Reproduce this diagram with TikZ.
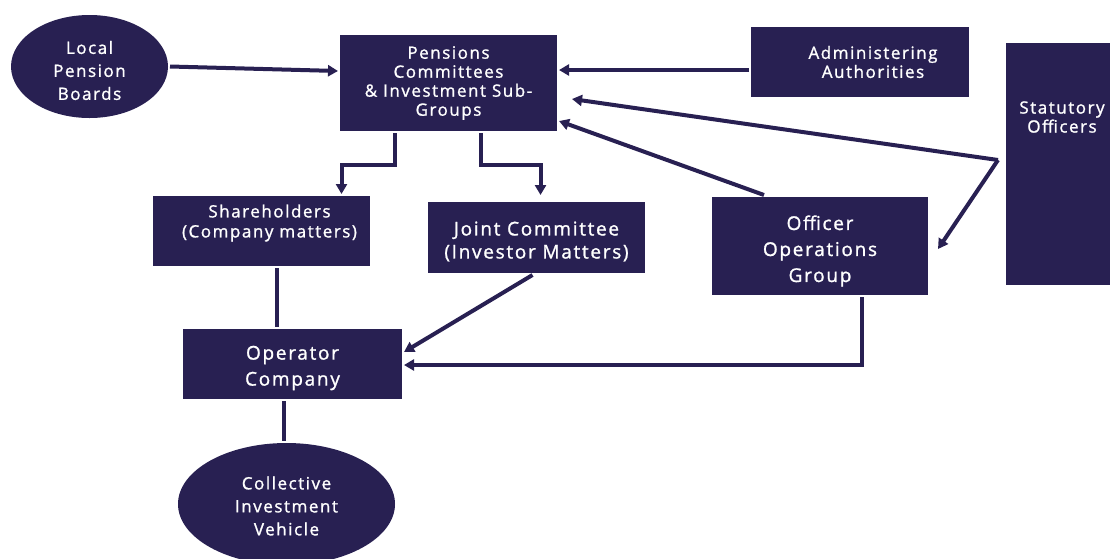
\documentclass[tikz,border=0pt]{standalone}
\usepackage{fontspec}
\setmainfont{Open Sans}[LetterSpace=9, FakeBold=1.2]
\usetikzlibrary{arrows.meta,shapes.geometric}
\definecolor{navy}{RGB}{40,32,82}
\begin{document}
\begin{tikzpicture}[x=1pt, y=-1pt, >={Triangle[length=10pt,width=11pt]},
    line width=4pt, draw=navy,
    txt/.style={text=white, align=center, font=\fontsize{17}{19}\selectfont},
    box/.style={txt, fill=navy, inner sep=0pt},
    bigtxt/.style={txt, font=\fontsize{19}{26}\selectfont},
    oval/.style={txt, ellipse, fill=navy, inner sep=0pt, font=\fontsize{17}{23}\selectfont}]
          \useasboundingbox (0,0) rectangle (1110,558);
          \clip (0,0) rectangle (1110,558);

          \node[oval, minimum width=157, minimum height=103,
            label={[oval, fill=none, yshift=-4pt]center:{Local\\Pension\\Boards}}] (lpb) at (89.5,66.5) {};
          \node[box, minimum width=217, minimum height=96] (pc) at (448.5,83) {Pensions\\Committees\\\& Investment Sub-\\Groups};
          \node[box, minimum width=218, minimum height=70,
            label={[txt, xshift=13pt]center:{Administering\\Authorities}}] (aa) at (860,62) {};
          \node[box, minimum width=112, minimum height=242,
            label={[txt, yshift=47pt]center:{Statutory\\Officers}}] (so) at (1062,164) {};
          \coordinate (sj) at (998,160);

          \node[box, minimum width=217, minimum height=70,
            label={[txt, xshift=8pt, yshift=8pt, font=\fontsize{17}{20}\selectfont]center:{Shareholders\\(Company matters)}}] (sh) at (261.5,231) {};
          \node[box, minimum width=217, minimum height=71,
            label={[bigtxt, yshift=-4pt, font=\fontsize{19}{23}\selectfont]center:{Joint Committee\\(Investor Matters)}}] (jc) at (536.5,237.5) {};
          \node[box, minimum width=216, minimum height=98,
            label={[bigtxt, yshift=-5pt]center:{Officer\\Operations\\Group}}] (oog) at (820,246) {};
          \node[box, minimum width=219, minimum height=70,
            label={[bigtxt, yshift=-4pt]center:{Operator\\Company}}] (op) at (292.5,364) {};
          \node[oval, minimum width=217, minimum height=122,
            label={[oval, fill=none, yshift=-2pt]center:{Collective\\Investment\\Vehicle}}] (civ) at (286.5,504) {};

          \draw[->] (lpb.east) to ([yshift=12pt]pc.west);
          \draw[->] ([yshift=-8pt]aa.west) to ([yshift=-8pt]aa.west -| pc.east);
          \draw[->] (sj) to ([xshift=13pt,yshift=-16pt]pc.east);
          \draw[->] (sj) to ([xshift=8pt,yshift=-3pt]oog.east);
          \draw[->] ([xshift=-56pt]oog.north) to ([yshift=-38pt]pc.east);
          \draw[->] ([xshift=-54pt]pc.south) -- ++(0,32) -| ([xshift=80pt]sh.north);
          \draw[->, shorten >=5pt] ([xshift=32pt]pc.south) -- ++(0,32) -| ([xshift=4pt]jc.north);
          \draw ([xshift=15pt]sh.south) to ([xshift=15pt]sh.south |- op.north);
          \draw[->] ([xshift=-4pt]jc.south) to ([yshift=12pt]op.east);
          \draw[->] ([xshift=42pt]oog.south) |- ([yshift=-1pt]op.east);
          \draw ([xshift=-9pt]op.south) to ([xshift=-9pt]op.south |- civ.north);
        \end{tikzpicture}
\end{document}
